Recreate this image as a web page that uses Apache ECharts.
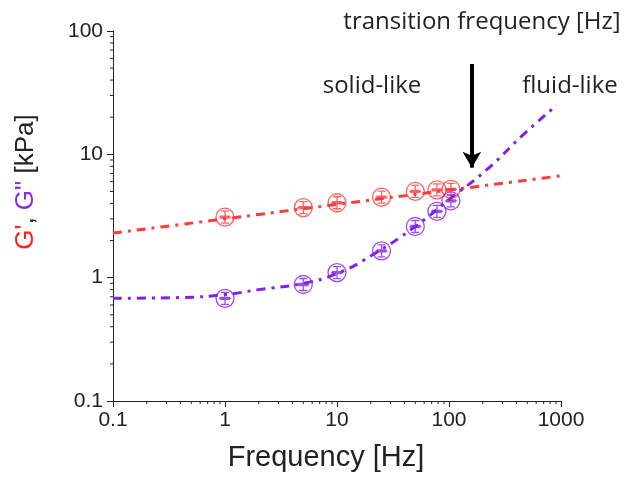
<!DOCTYPE html>
<html><head><meta charset="utf-8">
<script src="https://cdn.jsdelivr.net/npm/echarts@6/dist/echarts.min.js"></script>
<style>html,body{margin:0;padding:0;background:#fff}#c{width:627px;height:477px}</style>
</head><body><div id="c"></div>
<script>
// measured points
const freqs = [1, 5, 10, 25, 50, 78, 104];
const gPrime = [3.1, 3.7, 4.05, 4.5, 5.0, 5.15, 5.2];
const gDouble = [0.68, 0.88, 1.1, 1.65, 2.6, 3.45, 4.2];
// fit curves
const fitGpX = [0.1, 1, 10, 100, 1000];
const fitGpY = [2.3, 3.0, 3.93, 5.13, 6.7];
const fitGdX = [0.1, 0.4, 1, 2, 5, 10, 20, 50, 100, 217, 459, 915];
const fitGdY = [0.68, 0.69, 0.73, 0.80, 0.90, 1.08, 1.5, 2.6, 4.3, 7.5, 14.4, 25];
// transition arrow
const arrowX = 160;
const arrowY = [54, 7.8];
// axis ticks
const xTicks = [0.1, 1, 10, 100, 1000];
const yTicks = [0.1, 1, 10, 100];
const minorMult = [2, 3, 4, 5, 6, 7, 8, 9];

const RED = '#ff3b3b', PURPLE = '#8020f0';
const xMinor = [], yMinor = [];
xTicks.slice(0, -1).forEach(d => minorMult.forEach(m => xMinor.push([+(d * m).toPrecision(3)])));
yTicks.slice(0, -1).forEach(d => minorMult.forEach(m => yMinor.push([+(d * m).toPrecision(3)])));

const sym = 'path://M0,-9A9,9 0 1,1 0,9A9,9 0 1,1 0,-9ZM0,-6L0,6M-4,-6L4,-6M-4,6L4,6M-6,0L6,0M-5,-1L5,-1M-5,1L5,1';
const zip = (a, b) => a.map((v, i) => [v, b[i]]);
const ARIAL = "'Liberation Sans', Arial, sans-serif";
const labelFont = {fontFamily: ARIAL, fontSize: 21, color: '#222'};

const chart = echarts.init(document.getElementById('c'));
chart.setOption({
  animation: false,
  grid: {left: 113, right: 66, top: 31, bottom: 72},
  xAxis: {
    type: 'log', logBase: 10, min: 0.1, max: 1000,
    axisLine: {lineStyle: {color: '#222', width: 1}},
    axisTick: {length: 6, lineStyle: {color: '#222'}},
    splitLine: {show: false},
    axisLabel: Object.assign({margin: 9, formatter: v => String(v)}, labelFont),
    name: 'Frequency [Hz]', nameLocation: 'middle', nameGap: 42,
    nameTextStyle: {fontFamily: ARIAL, fontSize: 29, color: '#222', padding: [0, 22, 0, 0]}
  },
  yAxis: {
    type: 'log', logBase: 10, min: 0.1, max: 100,
    axisLine: {show: true, lineStyle: {color: '#222', width: 1}},
    axisTick: {show: true, length: 6, lineStyle: {color: '#222'}},
    splitLine: {show: false},
    axisLabel: Object.assign({margin: 10, formatter: v => String(v)}, labelFont)
  },
  graphic: [
    {type: 'text', x: 26, y: 182, rotation: Math.PI / 2,
     style: {text: "{r|G'}{k|, }{p|G\"}{k| [kPa]}", align: 'center', verticalAlign: 'middle',
       rich: {r: {fill: '#ff2020', fontSize: 26, fontFamily: ARIAL},
              p: {fill: '#8a2be2', fontSize: 26, fontFamily: ARIAL},
              k: {fill: '#222', fontSize: 26, fontFamily: ARIAL}}}},
    {type: 'text', x: 482, y: 22, style: {text: 'transition frequency [Hz]', align: 'center', verticalAlign: 'middle', fill: '#222', fontSize: 24, fontFamily: 'Open Sans'}},
    {type: 'text', x: 372, y: 86, style: {text: 'solid-like', align: 'center', verticalAlign: 'middle', fill: '#222', fontSize: 24, fontFamily: 'Open Sans'}},
    {type: 'text', x: 570, y: 86, style: {text: 'fluid-like', align: 'center', verticalAlign: 'middle', fill: '#222', fontSize: 24, fontFamily: 'Open Sans'}}
  ],
  series: [
    {type: 'line', data: zip(fitGpX, fitGpY), smooth: true, symbol: 'none',
     lineStyle: {color: RED, width: 3, type: [9, 6, 3, 6]}, z: 2},
    {type: 'line', data: zip(fitGdX, fitGdY), smooth: true, symbol: 'none',
     lineStyle: {color: PURPLE, width: 3, type: [9, 6, 3, 6]}, z: 2},
    {type: 'scatter', data: zip(freqs, gPrime), symbol: sym, symbolSize: 18,
     itemStyle: {color: 'rgba(0,0,0,0)', borderColor: RED, borderWidth: 1.3}, z: 3},
    {type: 'scatter', data: zip(freqs, gDouble), symbol: sym, symbolSize: 18,
     itemStyle: {color: 'rgba(0,0,0,0)', borderColor: PURPLE, borderWidth: 1.3}, z: 3},
    {type: 'line', data: [], symbol: 'none',
     markLine: {silent: true, symbol: ['none', 'arrow'], symbolSize: [14, 16], label: {show: false},
       lineStyle: {color: '#000', width: 4, type: 'solid'},
       data: [[{coord: [arrowX, arrowY[0]]}, {coord: [arrowX, arrowY[1]]}]]}},
    {type: 'custom', data: xMinor, clip: false, silent: true,
     renderItem: (params, api) => {
       const p = api.coord([api.value(0), 0.1]);
       return {type: 'line', shape: {x1: p[0], y1: p[1], x2: p[0], y2: p[1] + 3}, style: {stroke: '#222', lineWidth: 1}};
     }},
    {type: 'custom', data: yMinor.map(v => [1, v[0]]), clip: false, silent: true,
     renderItem: (params, api) => {
       const p = api.coord([0.1, api.value(1)]);
       return {type: 'line', shape: {x1: p[0], y1: p[1], x2: p[0] - 3, y2: p[1]}, style: {stroke: '#222', lineWidth: 1}};
     }}
  ]
});
</script></body></html>
